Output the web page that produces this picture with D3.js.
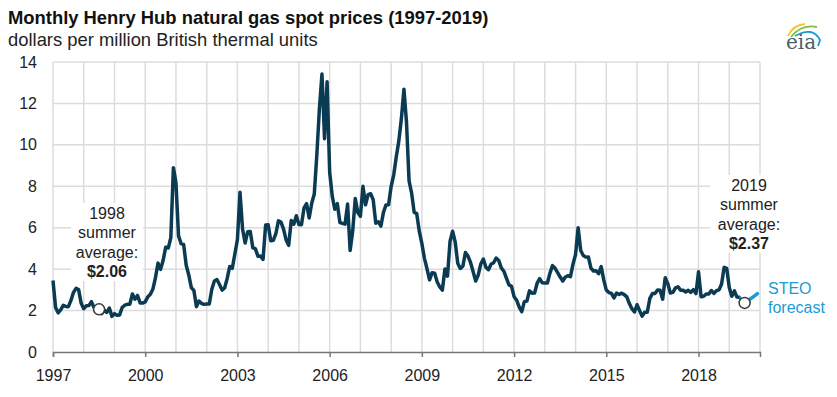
<!DOCTYPE html>
<html>
<head>
<meta charset="utf-8">
<script src="https://cdnjs.cloudflare.com/ajax/libs/d3/7.8.5/d3.min.js"></script>
<style>
  body { margin: 0; background: #fff; }
  svg text { font-family: "Liberation Sans", Arial, sans-serif; }
</style>
</head>
<body>
<div id="chart"></div>
<script>
// monthly Henry Hub spot price, Jan 1997 .. May 2019
var historyStart = 1997;
var historyPrices = [
  3.45, 2.15, 1.89, 2.03, 2.25, 2.20, 2.19, 2.49, 2.88, 3.07, 3.01, 2.35,
  2.09, 2.23, 2.24, 2.43, 2.14, 2.17, 2.17, 1.85, 2.02, 1.91, 2.12, 1.72,
  1.85, 1.77, 1.79, 2.15, 2.26, 2.30, 2.31, 2.80, 2.55, 2.73, 2.37, 2.36,
  2.42, 2.66, 2.79, 3.04, 3.59, 4.29, 3.99, 4.43, 5.06, 5.02, 5.52, 8.90,
  8.17, 5.61, 5.23, 5.19, 4.19, 3.72, 3.11, 2.97, 2.19, 2.46, 2.34, 2.30,
  2.32, 2.32, 3.03, 3.43, 3.50, 3.26, 2.99, 3.09, 3.55, 4.13, 4.04, 4.74,
  5.43, 7.71, 5.93, 5.26, 5.81, 5.82, 5.03, 4.99, 4.62, 4.63, 4.47, 6.13,
  6.14, 5.37, 5.39, 5.71, 6.33, 6.27, 5.93, 5.41, 5.15, 6.35, 6.17, 6.58,
  6.15, 6.14, 6.96, 7.16, 6.47, 7.18, 7.63, 9.53, 11.75, 13.42, 10.30, 13.05,
  8.69, 7.54, 6.89, 7.16, 6.25, 6.21, 6.17, 7.14, 4.90, 5.85, 7.41, 6.73,
  6.55, 8.00, 7.11, 7.60, 7.64, 7.35, 6.22, 6.29, 6.08, 6.74, 7.10, 7.11,
  7.99, 8.54, 9.41, 10.18, 11.27, 12.69, 11.09, 8.26, 7.67, 6.74, 6.68, 5.82,
  5.24, 4.52, 4.02, 3.48, 3.83, 3.80, 3.38, 3.14, 2.99, 4.01, 3.66, 5.35,
  5.83, 5.32, 4.29, 4.03, 4.14, 4.80, 4.63, 4.32, 3.89, 3.43, 3.71, 4.25,
  4.49, 4.09, 3.97, 4.24, 4.31, 4.54, 4.42, 4.06, 3.90, 3.57, 3.24, 3.17,
  2.67, 2.50, 2.17, 1.95, 2.43, 2.46, 2.95, 2.84, 2.85, 3.32, 3.54, 3.34,
  3.33, 3.33, 3.81, 4.17, 4.04, 3.83, 3.62, 3.43, 3.62, 3.68, 3.64, 4.24,
  4.71, 6.00, 4.90, 4.66, 4.58, 4.59, 4.05, 3.91, 3.92, 3.78, 4.12, 3.48,
  2.99, 2.87, 2.83, 2.61, 2.85, 2.78, 2.84, 2.77, 2.66, 2.34, 2.09, 1.93,
  2.28, 1.99, 1.73, 1.92, 1.92, 2.59, 2.82, 2.82, 2.99, 2.98, 2.55, 3.59,
  3.30, 2.85, 2.88, 3.10, 3.15, 2.98, 2.98, 2.90, 2.98, 2.88, 3.01, 2.82,
  3.87, 2.67, 2.69, 2.80, 2.80, 2.97, 2.83, 2.96, 3.00, 3.28, 4.09, 4.04,
  3.11, 2.69, 2.95, 2.65, 2.64
];

// STEO forecast, May 2019 .. Dec 2019
var forecastStart = 2019 + 4 / 12;
var forecastPrices = [2.64, 2.42, 2.35, 2.45, 2.55, 2.63, 2.72, 2.82];

var yTicks = [0, 2, 4, 6, 8, 10, 12, 14];
var xTicks = [1997, 2000, 2003, 2006, 2009, 2012, 2015, 2018];

var summerNotes = [
  {date: 1998.5, value: 2.06, lines: ["1998", "summer", "average:"], label: "$2.06"},
  {date: 2019.5, value: 2.37, lines: ["2019", "summer", "average:"], label: "$2.37"}
];

var width = 837, height = 397;
var svg = d3.select("#chart").append("svg")
    .attr("width", width)
    .attr("height", height);

var x = d3.scaleLinear().domain([1997, 2020]).range([53, 760]);
var y = d3.scaleLinear().domain([0, 14]).range([352, 62]);

// titles
svg.append("text")
    .attr("x", 8).attr("y", 24)
    .style("font-size", "18.4px").style("font-weight", "bold").style("fill", "#111")
    .text("Monthly Henry Hub natural gas spot prices (1997-2019)");
svg.append("text")
    .attr("x", 8).attr("y", 46)
    .style("font-size", "18.4px").style("fill", "#222")
    .text("dollars per million British thermal units");

// eia logo
var logo = svg.append("g").attr("transform", "translate(801,34)");
logo.append("path").attr("d", "M-13,2 Q-8,-9 4,-10").style("fill", "none").style("stroke", "#f2c530").style("stroke-width", 1.8);
logo.append("path").attr("d", "M-10,3 Q0,-10 16,-7").style("fill", "none").style("stroke", "#7cc043").style("stroke-width", 1.8);
logo.append("path").attr("d", "M-6,2 Q12,-8 19,6 L17,12").style("fill", "none").style("stroke", "#1a9ad6").style("stroke-width", 1.8);
logo.append("text")
    .attr("x", 0).attr("y", 15)
    .attr("text-anchor", "middle")
    .style("font-family", "'DejaVu Serif', 'Liberation Serif', serif")
    .style("font-size", "20px").style("fill", "#4d5d6b")
    .text("eia");

// grid
var grid = svg.append("g");
grid.selectAll("line.h")
    .data(yTicks.filter(function(d){ return d > 0; }))
  .enter().append("line")
    .attr("x1", x(1997)).attr("x2", x(2020))
    .attr("y1", function(d){ return y(d); })
    .attr("y2", function(d){ return y(d); })
    .style("stroke", "#dcdcdc").style("stroke-width", 1.5);
grid.selectAll("line.v")
    .data(d3.range(1997, 2021))
  .enter().append("line")
    .attr("x1", function(d){ return x(d); })
    .attr("x2", function(d){ return x(d); })
    .attr("y1", y(14)).attr("y2", y(0))
    .style("stroke", "#dcdcdc").style("stroke-width", 1.5);

// y labels
var yAxis = svg.append("g")
    .attr("transform", "translate(" + x(1997) + ",0)")
    .call(d3.axisLeft(y).tickValues(yTicks).tickSize(0).tickPadding(16));
yAxis.select(".domain").remove();
yAxis.selectAll("text").style("font-size", "16px").style("fill", "#222")
    .style("font-family", "'Liberation Sans', Arial, sans-serif");

// x axis
var xAxis = svg.append("g")
    .attr("transform", "translate(0," + y(0) + ")")
    .call(d3.axisBottom(x).tickValues(xTicks).tickFormat(d3.format("d")).tickSize(5).tickPadding(13));
xAxis.select(".domain").style("stroke", "#777").style("stroke-width", 1.5);
xAxis.selectAll("line").style("stroke", "#777").style("stroke-width", 1.5);
xAxis.selectAll("text").style("font-size", "16px").style("fill", "#222")
    .style("font-family", "'Liberation Sans', Arial, sans-serif");

// white boxes behind notes
var boxes = [
  {note: summerNotes[0], cx: 107, top: 203, w: 72, h: 78},
  {note: summerNotes[1], cx: 749, top: 175, w: 78, h: 78}
];
svg.selectAll("rect.note")
    .data(boxes)
  .enter().append("rect")
    .attr("x", function(d){ return d.cx - d.w / 2; })
    .attr("y", function(d){ return d.top; })
    .attr("width", function(d){ return d.w; })
    .attr("height", function(d){ return d.h; })
    .style("fill", "#fff");

// price lines
var line = d3.line()
    .x(function(d){ return x(d.t); })
    .y(function(d){ return y(d.v); });

var hist = historyPrices.map(function(v, i){ return {t: historyStart + i / 12, v: v}; });
var fc = forecastPrices.map(function(v, i){ return {t: forecastStart + i / 12, v: v}; });

svg.append("path")
    .datum(fc)
    .attr("d", line)
    .style("fill", "none").style("stroke", "#1a9ad6")
    .style("stroke-width", 3.5).style("stroke-linejoin", "round").style("stroke-linecap", "round");

svg.append("path")
    .datum(hist)
    .attr("d", line)
    .style("fill", "none").style("stroke", "#0b3a53")
    .style("stroke-width", 3.5).style("stroke-linejoin", "round");

svg.selectAll("circle.avg")
    .data(summerNotes)
  .enter().append("circle")
    .attr("cx", function(d){ return x(d.date); })
    .attr("cy", function(d){ return y(d.value); })
    .attr("r", 5.5)
    .style("fill", "#fff").style("stroke", "#3a3a3a").style("stroke-width", 1.5);

// note text
boxes.forEach(function(b){
  var g = svg.append("g");
  b.note.lines.forEach(function(t, i){
    g.append("text")
      .attr("x", b.cx).attr("y", b.top + 16 + i * 19.3)
      .attr("text-anchor", "middle")
      .style("font-size", "16px").style("fill", "#222")
      .text(t);
  });
  g.append("text")
    .attr("x", b.cx).attr("y", b.top + 16 + 3 * 19.3)
    .attr("text-anchor", "middle")
    .style("font-size", "16px").style("font-weight", "bold").style("fill", "#222")
    .text(b.note.label);
});

svg.append("text")
    .attr("x", 768).attr("y", 294)
    .style("font-size", "16px").style("fill", "#1a9ad6")
    .text("STEO");
svg.append("text")
    .attr("x", 768).attr("y", 313)
    .style("font-size", "16px").style("fill", "#1a9ad6")
    .text("forecast");
</script>
</body>
</html>
